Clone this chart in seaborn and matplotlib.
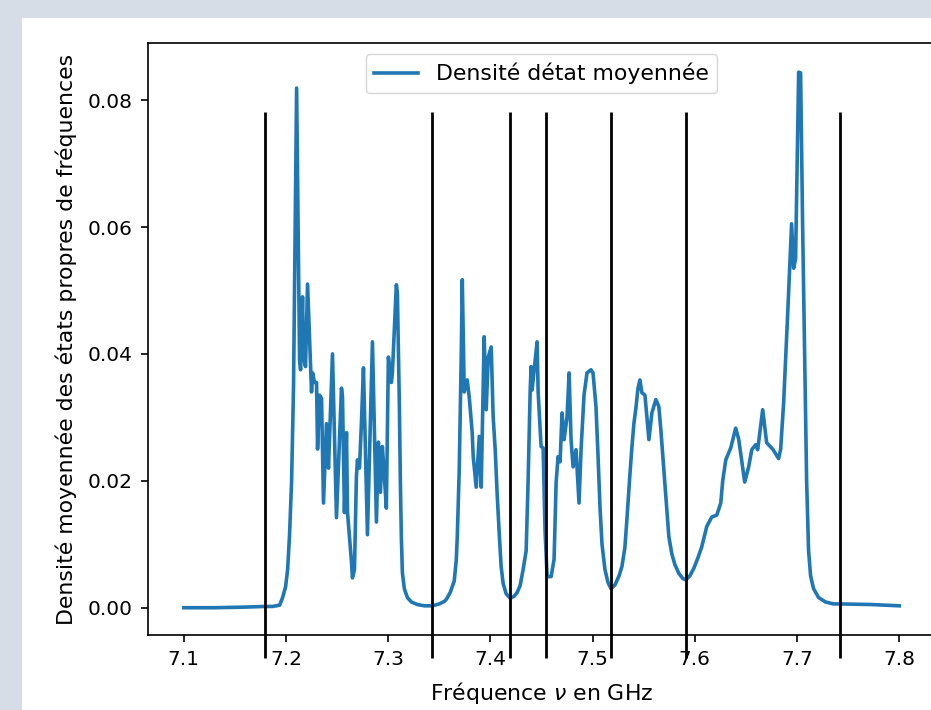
import matplotlib
matplotlib.use("Agg")
import matplotlib.pyplot as plt
import seaborn as sns
from matplotlib.patches import Rectangle

# Mean density of states, one pair of lists per band
band1_freq = [
    7.1000, 7.1303, 7.1605, 7.1791, 7.1869, 7.1938, 7.1967, 7.1996, 7.2016, 7.2035,
    7.2055, 7.2074, 7.2104, 7.2133, 7.2143, 7.2162, 7.2172, 7.2191, 7.2211, 7.2250,
    7.2260, 7.2279, 7.2299, 7.2309, 7.2328, 7.2348, 7.2367, 7.2396, 7.2416, 7.2455,
    7.2494, 7.2543, 7.2553, 7.2572, 7.2592, 7.2602, 7.2641, 7.2650, 7.2670, 7.2689,
    7.2699, 7.2719, 7.2738, 7.2758, 7.2797, 7.2846, 7.2885, 7.2904, 7.2924, 7.2943,
    7.2963, 7.2982, 7.3002, 7.3031, 7.3041, 7.3080, 7.3090, 7.3109, 7.3119, 7.3129,
    7.3139, 7.3158, 7.3188, 7.3227, 7.3285, 7.3354, 7.3432,
]
band1_density = [
    0.0000, 0.0000, 0.0001, 0.0002, 0.0002, 0.0004, 0.0016, 0.0033, 0.0060, 0.0115,
    0.0200, 0.0350, 0.0819, 0.0390, 0.0375, 0.0490, 0.0395, 0.0380, 0.0510, 0.0340,
    0.0370, 0.0355, 0.0355, 0.0250, 0.0335, 0.0330, 0.0165, 0.0290, 0.0220, 0.0400,
    0.0142, 0.0346, 0.0332, 0.0150, 0.0276, 0.0150, 0.0072, 0.0047, 0.0060, 0.0206,
    0.0233, 0.0220, 0.0290, 0.0378, 0.0115, 0.0419, 0.0135, 0.0261, 0.0182, 0.0254,
    0.0206, 0.0157, 0.0395, 0.0355, 0.0370, 0.0509, 0.0496, 0.0323, 0.0200, 0.0110,
    0.0055, 0.0030, 0.0016, 0.0009, 0.0005, 0.0003, 0.0003,
]

band2_freq = [
    7.3500, 7.3549, 7.3568, 7.3607, 7.3646, 7.3666, 7.3676, 7.3695, 7.3715, 7.3725,
    7.3744, 7.3773, 7.3793, 7.3822, 7.3832, 7.3861, 7.3891, 7.3910, 7.3939, 7.3959,
    7.3979, 7.4008, 7.4027, 7.4047, 7.4066, 7.4086, 7.4105, 7.4125, 7.4154, 7.4193,
]
band2_density = [
    0.0006, 0.0010, 0.0013, 0.0024, 0.0042, 0.0075, 0.0112, 0.0217, 0.0400, 0.0517,
    0.0340, 0.0359, 0.0332, 0.0276, 0.0238, 0.0190, 0.0270, 0.0190, 0.0427, 0.0312,
    0.0395, 0.0411, 0.0301, 0.0249, 0.0180, 0.0118, 0.0065, 0.0038, 0.0022, 0.0015,
]

band3_freq = [
    7.4232, 7.4262, 7.4291, 7.4320, 7.4350, 7.4369, 7.4389, 7.4398, 7.4408, 7.4428,
    7.4457, 7.4467, 7.4496, 7.4516, 7.4535, 7.4555, 7.4594, 7.4623, 7.4643, 7.4662,
    7.4682, 7.4701, 7.4721, 7.4750, 7.4770, 7.4789, 7.4809, 7.4838, 7.4867, 7.4887,
    7.4916, 7.4945, 7.4984, 7.5004, 7.5033, 7.5053, 7.5072, 7.5092, 7.5121, 7.5150,
    7.5180,
]
band3_density = [
    0.0018, 0.0024, 0.0035, 0.0060, 0.0090, 0.0200, 0.0340, 0.0380, 0.0343, 0.0375,
    0.0419, 0.0340, 0.0254, 0.0252, 0.0120, 0.0049, 0.0049, 0.0076, 0.0197, 0.0238,
    0.0230, 0.0307, 0.0265, 0.0301, 0.0370, 0.0265, 0.0222, 0.0249, 0.0165, 0.0249,
    0.0335, 0.0370, 0.0375, 0.0370, 0.0317, 0.0240, 0.0160, 0.0100, 0.0060, 0.0040,
    0.0030,
]

band4_freq = [
    7.5219, 7.5258, 7.5287, 7.5316, 7.5336, 7.5365, 7.5385, 7.5404, 7.5424, 7.5443,
    7.5463, 7.5482, 7.5512, 7.5551, 7.5580, 7.5619, 7.5648, 7.5668, 7.5697, 7.5727,
    7.5746, 7.5775, 7.5805, 7.5844, 7.5883, 7.5912,
]
band4_density = [
    0.0036, 0.0050, 0.0065, 0.0095, 0.0140, 0.0210, 0.0254, 0.0290, 0.0315, 0.0345,
    0.0359, 0.0339, 0.0335, 0.0265, 0.0307, 0.0328, 0.0317, 0.0280, 0.0217, 0.0150,
    0.0112, 0.0085, 0.0068, 0.0054, 0.0046, 0.0044,
]

band5_freq = [
    7.5951, 7.5990, 7.6029, 7.6068, 7.6117, 7.6166, 7.6215, 7.6254, 7.6273, 7.6303,
    7.6352, 7.6400, 7.6430, 7.6488, 7.6527, 7.6557, 7.6596, 7.6615, 7.6664, 7.6703,
    7.6762, 7.6820, 7.6840, 7.6869, 7.6908, 7.6947, 7.6967, 7.6986, 7.7016, 7.7035,
    7.7055, 7.7074, 7.7084, 7.7094, 7.7113, 7.7133, 7.7162, 7.7211, 7.7279, 7.7357,
    7.7416, 7.7729, 7.8000,
]
band5_density = [
    0.0050, 0.0062, 0.0078, 0.0096, 0.0128, 0.0143, 0.0146, 0.0165, 0.0200, 0.0233,
    0.0252, 0.0283, 0.0265, 0.0198, 0.0222, 0.0249, 0.0257, 0.0249, 0.0312, 0.0260,
    0.0250, 0.0235, 0.0250, 0.0323, 0.0461, 0.0605, 0.0535, 0.0550, 0.0844, 0.0843,
    0.0600, 0.0400, 0.0300, 0.0200, 0.0090, 0.0050, 0.0030, 0.0016, 0.0009, 0.0006,
    0.0006, 0.0005, 0.0003,
]

freq = band1_freq + band2_freq + band3_freq + band4_freq + band5_freq
density = band1_density + band2_density + band3_density + band4_density + band5_density
assert len(freq) == len(density)

# Band edges (vertical markers)
band_edges = [7.1791, 7.3432, 7.4193, 7.4545, 7.5180, 7.5912, 7.7416]

fig = plt.figure(figsize=(9.31, 7.10), dpi=100, facecolor="#d6dde6")
fig.patches.append(Rectangle((22 / 931, 0), 1, (710 - 18) / 710,
                             transform=fig.transFigure, facecolor="white",
                             edgecolor="none", zorder=-10))
ax = fig.add_axes([148 / 931, 75 / 710, 787 / 931, 592 / 710])

sns.lineplot(x=freq, y=density, ax=ax, sort=False, estimator=None,
             color="#1f77b4", linewidth=2.6, label="Densité détat moyennée")

ax.vlines(band_edges, -0.0079, 0.0781, colors="black", linewidth=2.0,
          clip_on=False, zorder=3)

ax.set_xlim(7.065, 7.835)
ax.set_ylim(-0.0043, 0.089)
ax.set_xticks([7.1, 7.2, 7.3, 7.4, 7.5, 7.6, 7.7, 7.8])
ax.set_yticks([0.00, 0.02, 0.04, 0.06, 0.08])
ax.tick_params(labelsize=14.5, length=5, width=1.2, pad=6)
for s in ax.spines.values():
    s.set_linewidth(1.2)

ax.set_xlabel("Fréquence $\\nu$ en GHz", fontsize=15.8, labelpad=8)
ax.set_ylabel("Densité moyennée des états propres de fréquences",
              fontsize=15.8, labelpad=8)
ax.legend(loc="upper center", fontsize=15.8)

fig.savefig("out.png", dpi=100, facecolor=fig.get_facecolor())
